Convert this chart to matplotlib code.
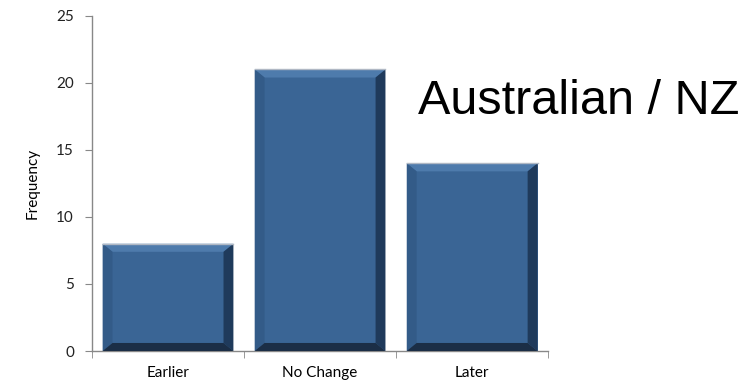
import numpy as np
import matplotlib.pyplot as plt
from matplotlib.patches import Polygon

categories = ["Earlier", "No Change", "Later"]
frequency = [8, 21, 14]
y_ticks = [0, 5, 10, 15, 20, 25]

plt.rcParams['font.family'] = ['Lato', 'DejaVu Sans']

fig = plt.figure(figsize=(7.54, 3.87), dpi=100)
ax = fig.add_axes([0.122, 0.093, 0.605, 0.866])

x = np.arange(len(categories))
width = 0.86
bars = ax.bar(x, frequency, width=width, color="#3a6595", edgecolor="none", zorder=2)

# bevelled edges around each bar
bx, by = 0.065, 0.6
for b in bars:
    x0, y0 = b.get_x(), b.get_y()
    x1, y1 = x0 + b.get_width(), y0 + b.get_height()
    faces = [
        ([(x0, y1), (x1, y1), (x1 - bx, y1 - by), (x0 + bx, y1 - by)], "#4e7bac"),
        ([(x0, y0), (x0, y1), (x0 + bx, y1 - by), (x0 + bx, y0 + by)], "#335b88"),
        ([(x1, y0), (x1, y1), (x1 - bx, y1 - by), (x1 - bx, y0 + by)], "#1f3a5b"),
        ([(x0, y0), (x1, y0), (x1 - bx, y0 + by), (x0 + bx, y0 + by)], "#1b2e46"),
    ]
    for pts, c in faces:
        ax.add_patch(Polygon(pts, closed=True, facecolor=c, edgecolor="none", zorder=3))
    ax.plot([x0, x1], [y1, y1], color="#b0b8c4", lw=1, zorder=4)

ax.set_xlim(-0.5, len(categories) - 0.5)
ax.set_ylim(0, 25)
ax.set_yticks(y_ticks)
ax.set_xticks(x)
ax.set_xticklabels(categories, fontsize=11)
ax.set_xticks(np.arange(len(categories) + 1) - 0.5, minor=True)
ax.tick_params(axis="x", which="major", length=0, pad=11)
ax.tick_params(axis="x", which="minor", length=5, color="#888888", direction="out")
ax.tick_params(axis="y", length=5, color="#888888", labelsize=11, labelcolor="#222222", pad=8)

for side in ["top", "right"]:
    ax.spines[side].set_visible(False)
for side in ["left", "bottom"]:
    ax.spines[side].set_color("#888888")
    ax.spines[side].set_linewidth(1)

ax.set_ylabel("Frequency", fontsize=11, labelpad=12)

fig.text(0.555, 0.738, "Australian / NZ", fontsize=35, family="Liberation Sans",
         ha="left", va="center")

fig.savefig("out.png", dpi=100)
